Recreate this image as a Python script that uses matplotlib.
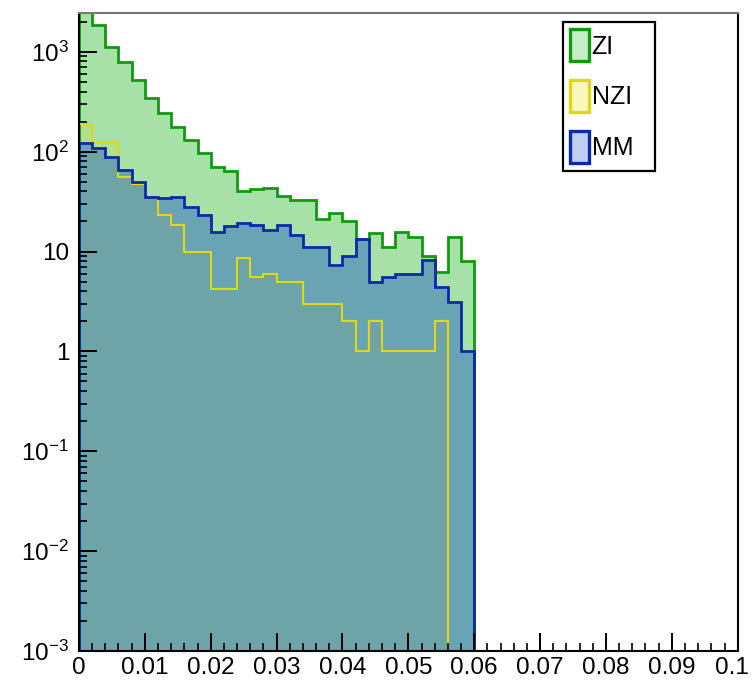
import numpy as np
import matplotlib
matplotlib.use('Agg')
import matplotlib.pyplot as plt
from matplotlib.patches import Patch
from matplotlib.ticker import FixedLocator, LogLocator, NullFormatter
from matplotlib.transforms import ScaledTranslation

plt.rcParams['font.family'] = ['Liberation Sans', 'DejaVu Sans']
plt.rcParams['mathtext.fontset'] = 'custom'
plt.rcParams['mathtext.rm'] = 'Liberation Sans'
plt.rcParams['mathtext.default'] = 'regular'

# ---- data ----
bin_edges = np.linspace(0.0, 0.1, 51)
zi = [2800, 1860, 1120, 790, 525, 347, 245, 178, 132, 98,
      71, 64, 40, 42, 43, 36, 33, 33, 21, 24.5,
      20, 13.5, 15.5, 11.2, 15.8, 14, 9.1, 6.2, 14, 8.1] + [0] * 20
nzi = [190, 126, 126, 56, 47, 35, 23, 18.6, 10, 10,
       4.2, 4.2, 8.7, 5.5, 5.9, 4.9, 4.9, 3, 3, 3,
       2, 1, 2, 1, 1, 1, 1, 2, 0, 0] + [0] * 20
mm = [123, 110, 89, 66, 50, 35, 34, 35.5, 28, 23,
      15.8, 18, 19.5, 18.6, 16.6, 18.6, 14.8, 11, 11.2, 7.4,
      9.1, 13.5, 5.0, 5.5, 5.9, 5.9, 8.3, 4.4, 3.1, 1.0] + [0] * 20
series_labels = ['ZI', 'NZI', 'MM']
x_ticks = [0, 0.01, 0.02, 0.03, 0.04, 0.05, 0.06, 0.07, 0.08, 0.09, 0.1]
x_tick_labels = ['0', '0.01', '0.02', '0.03', '0.04', '0.05', '0.06',
                 '0.07', '0.08', '0.09', '0.1']
y_ticks = [1e-3, 1e-2, 1e-1, 1, 10, 100, 1000]
y_tick_labels = ['$10^{-3}$', '$10^{-2}$', '$10^{-1}$', '1', '10',
                 '$10^{2}$', '$10^{3}$']
y_min, y_max = 1e-3, 2450

line_colors = ['#109a10', '#e0d810', '#0a2aa8']
line_widths = [2.0, 1.5, 2.0]
fill_colors = ['#3cbe3c', '#e6dc00', '#1e5ac8']
fill_alphas = [0.45, 0.16, 0.45]

fig = plt.figure(figsize=(7.52, 6.81), dpi=100)
ax = fig.add_axes([0.105, 0.044, 0.876, 0.937])
ax.set_yscale('log')

series = [zi, nzi, mm]
plot_vals = [np.where(np.asarray(v, float) > 0, np.asarray(v, float), y_min) for v in series]
for vplot, fc, fa in zip(plot_vals, fill_colors, fill_alphas):
    ax.stairs(vplot, bin_edges, baseline=y_min, fill=True,
              facecolor=fc, alpha=fa, linewidth=0)
for vplot, lc, lw in zip(plot_vals, line_colors, line_widths):
    ax.stairs(vplot, bin_edges, baseline=y_min, fill=False,
              color=lc, linewidth=lw)

ax.set_xlim(0, 0.1)
ax.set_ylim(y_min, y_max)

ax.xaxis.set_major_locator(FixedLocator(x_ticks))
ax.set_xticklabels(x_tick_labels)
ax.xaxis.set_minor_locator(FixedLocator(np.arange(0, 0.1001, 0.002)))
ax.yaxis.set_major_locator(FixedLocator(y_ticks))
ax.set_yticklabels(y_tick_labels)
ax.yaxis.set_minor_locator(LogLocator(base=10, subs=np.arange(2, 10)))
ax.yaxis.set_minor_formatter(NullFormatter())

ax.tick_params(axis='both', which='major', direction='in', length=13, width=1.4,
               labelsize=17.5, top=False, right=False)
ax.tick_params(axis='both', which='minor', direction='in', length=6, width=1.2,
               top=False, right=False)
ax.tick_params(axis='x', pad=4)
ax.tick_params(axis='y', pad=7)
for s in ax.spines.values():
    s.set_linewidth(1.5)
ax.spines['top'].set_color('#777777')

# keep the last x label inside the canvas
last_lab = ax.get_xticklabels()[-1]
last_lab.set_transform(last_lab.get_transform() +
                       ScaledTranslation(-4 / 72, 0, fig.dpi_scale_trans))

handles = [Patch(facecolor='#c8ebc8', edgecolor=line_colors[0], linewidth=2.4),
           Patch(facecolor='#faf6c0', edgecolor=line_colors[1], linewidth=2.4),
           Patch(facecolor='#c0cef0', edgecolor=line_colors[2], linewidth=2.4)]
leg = ax.legend(handles, series_labels, loc='upper left',
                bbox_to_anchor=(0.7345, 0.986, 0.1396, 0.0), mode='expand',
                borderaxespad=0, fontsize=18,
                handlelength=0.75, handleheight=1.6, handletextpad=0.1,
                labelspacing=0.75, borderpad=0.3, fancybox=False,
                edgecolor='black', framealpha=1)
leg.get_frame().set_linewidth(1.6)

fig.savefig('out.png', dpi=100)
